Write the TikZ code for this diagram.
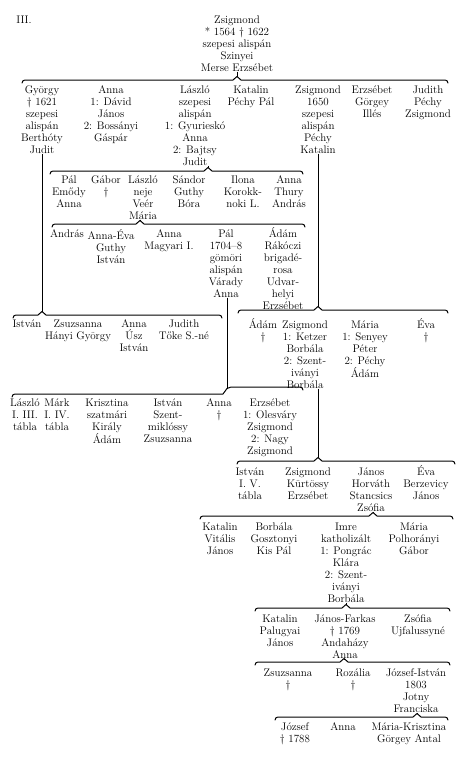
\documentclass[tikz,border=0pt]{standalone}
\usepackage{tikz}
\newcommand{\kinbrace}[5]{% #1 name, #2 left x, #3 right x, #4 spike x, #5 y
  \draw[bracel] ({#2},{#5+3}) .. controls ({#2},{#5+1}) and ({#2+1},{#5}) .. ({#2+5},{#5})
    -- ({#4-4},{#5}) -- ({#4},{#5-3.5}) -- ({#4+4},{#5})
    -- ({#3-5},{#5}) .. controls ({#3-1},{#5}) and ({#3},{#5+1}) .. ({#3},{#5+3});
  \coordinate (#1) at ({#4},{#5-3.5});
}
\begin{document}
\begin{tikzpicture}[x=1pt,y=-1pt,
  person/.style={anchor=north,align=center,inner sep=0pt,font=\fontsize{11}{12}\selectfont},
  bracel/.style={line width=1pt,line cap=round,line join=round},
  kinline/.style={line width=1pt}]
\fill[white] (0,0) rectangle (475,761);
\useasboundingbox (0,0) rectangle (475,761);

\node[person] (lbl) at (24,15.5) {III.};
\node[person] (root) at (237,15.5) {Zsigmond\\* 1564 \textdagger\ 1622\\szepesi alispán\\Szinyei\\Merse Erzsébet};

% row 1
\node[person] (r1a) at (42,85.5) {György\\\textdagger\ 1621\\szepesi\\alispán\\Berthóty\\Judit};
\node[person] (r1b) at (111,85.5) {Anna\\1: Dávid\\János\\2: Bossányi\\Gáspár};
\node[person] (r1c) at (195,85.5) {László\\szepesi\\alispán\\1: Gyurieskó\\Anna\\2: Bajtsy\\Judit};
\node[person] (r1d) at (251,85.5) {Katalin\\Péchy Pál};
\node[person] (r1e) at (318,85.5) {Zsigmond\\1650\\szepesi\\alispán\\Péchy\\Katalin};
\node[person] (r1f) at (372,85.5) {Erzsébet\\Görgey\\Illés};
\node[person] (r1g) at (428,85.5) {Judith\\Péchy\\Zsigmond};

% row 2a
\node[person] (r2a) at (69,175.5) {Pál\\Emődy\\Anna};
\node[person] (r2b) at (106,175.5) {Gábor\\\textdagger};
\node[person] (r2c) at (143,175.5) {László\\neje\\Veér\\Mária};
\node[person] (r2d) at (189,175.5) {Sándor\\Guthy\\Bóra};
\node[person] (r2e) at (243,175.5) {Ilona\\Korokk-\\noki L.};
\node[person] (r2f) at (289,175.5) {Anna\\Thury\\András};

% row 2b
\node[person] (r3a) at (67,229.5) {András};
\node[person] (r3b) at (111,229.5) {Anna-Éva\\Guthy\\István};
\node[person] (r3c) at (169,229.5) {Anna\\Magyari I.};
\node[person] (r3d) at (226,229.5) {Pál\\1704--8\\gömöri\\alispán\\Várady\\Anna};
\node[person] (r3e) at (283,227.5) {Ádám\\Rákóczi\\brigadé-\\rosa\\Udvar-\\helyi\\Erzsébet};

% row of György's children
\node[person] (r4a) at (27,319.5) {István};
\node[person] (r4b) at (78,319.5) {Zsuzsanna\\Hányi György};
\node[person] (r4c) at (134,319.5) {Anna\\Úsz\\István};
\node[person] (r4d) at (184,319.5) {Judith\\Tőke S.-né};

% row of Zsigmond's children
\node[person] (r5a) at (263,318.5) {Ádám\\\textdagger};
\node[person] (r5b) at (305,320.5) {Zsigmond\\1: Ketzer\\Borbála\\2: Szent-\\iványi\\Borbála};
\node[person] (r5c) at (365,320.5) {Mária\\1: Senyey\\Péter\\2: Péchy\\Ádám};
\node[person] (r5d) at (426,318.5) {Éva\\\textdagger};

% row of Pál's children
\node[person] (r6a) at (25,398.5) {László\\I. III.\\tábla};
\node[person] (r6b) at (57,398.5) {Márk\\I. IV.\\tábla};
\node[person] (r6c) at (107,398.5) {Krisztina\\szatmári\\Király\\Ádám};
\node[person] (r6d) at (168,398.5) {István\\Szent-\\miklóssy\\Zsuzsanna};
\node[person] (r6e) at (219,398.5) {Anna\\\textdagger};
\node[person] (r6f) at (270,398.5) {Erzsébet\\1: Olesváry\\Zsigmond\\2: Nagy\\Zsigmond};

% row 4
\node[person] (r7a) at (250,467.5) {István\\I. V.\\tábla};
\node[person] (r7b) at (308,467.5) {Zsigmond\\Kürtössy\\Erzsébet};
\node[person] (r7c) at (371,467.5) {János\\Horváth\\Stancsics\\Zsófia};
\node[person] (r7d) at (426,465.5) {Éva\\Berzevicy\\János};

% row 5
\node[person] (r8a) at (220,522.5) {Katalin\\Vitális\\János};
\node[person] (r8b) at (274,522.5) {Borbála\\Gosztonyi\\Kis Pál};
\node[person] (r8c) at (346,522.5) {Imre\\katholizált\\1: Pongrác\\Klára\\2: Szent-\\iványi\\Borbála};
\node[person] (r8d) at (414,522.5) {Mária\\Polhorányi\\Gábor};

% row 6
\node[person] (r9a) at (280,614.5) {Katalin\\Palugyai\\János};
\node[person] (r9b) at (345,614.5) {János-Farkas\\\textdagger\ 1769\\Andaházy\\Anna};
\node[person] (r9c) at (418,614.5) {Zsófia\\Ujfalussyné};

% row 7
\node[person] (r10a) at (288,668.5) {Zsuzsanna\\\textdagger};
\node[person] (r10b) at (353,668.5) {Rozália\\\textdagger};
\node[person] (r10c) at (416,668.5) {József-István\\1803\\Jotny\\Franciska};

% row 8
\node[person] (r11a) at (295,722.5) {József\\\textdagger\ 1788};
\node[person] (r11b) at (343,722.5) {Anna};
\node[person] (r11c) at (409,722.5) {Mária-Krisztina\\Görgey Antal};

% braces
\kinbrace{b1}{22}{448}{237}{80}
\kinbrace{b2}{50}{303}{208}{171}
\kinbrace{b3}{52}{305}{140}{224}
\kinbrace{b4}{13}{222}{42}{315}
\kinbrace{b5}{238}{448}{318}{310}
\draw[bracel] (12,397) .. controls (12,395) and (13,394) .. (17,394) -- (223,394)
  -- (227,388.5) -- (231,387) -- (298,387) .. controls (302,387) and (303,388) .. (303,390);
\coordinate (b6) at (227,388.5);
\kinbrace{b7}{237}{455}{318}{461}
\kinbrace{b8}{200}{453}{373}{516}
\kinbrace{b9}{255}{450}{346}{608}
\kinbrace{b10}{255}{450}{344}{662}
\kinbrace{b11}{275}{448}{417}{717}

% descent lines
\draw[kinline] (root.south -| b1) -- (b1);
\draw[kinline] (r1c.south -| b2) -- (b2);
\draw[kinline] (r2c.south -| b3) -- (b3);
\draw[kinline] (r1a.south -| b4) -- (b4);
\draw[kinline] (r1e.south -| b5) -- (b5);
\draw[kinline] (r3d.south -| b6) -- (b6);
\draw[kinline] (r5b.south -| b7) -- (b7);
\draw[kinline] (r7c.south -| b8) -- (b8);
\draw[kinline] (r8c.south -| b9) -- (b9);
\draw[kinline] (r9b.south -| b10) -- (b10);
\draw[kinline] (r10c.south -| b11) -- (b11);
\end{tikzpicture}
\end{document}
